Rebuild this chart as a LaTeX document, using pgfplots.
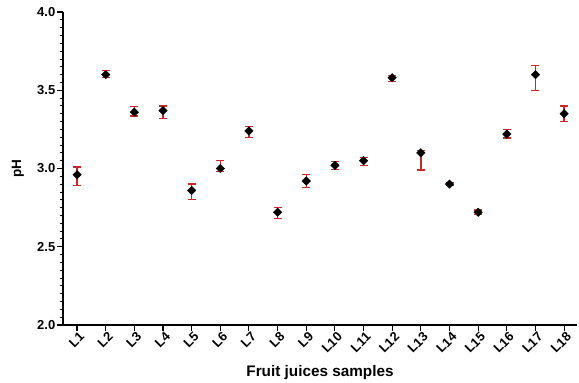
\documentclass[border=0pt]{standalone}
\usepackage{pgfplots}
\pgfplotsset{compat=1.18}
\usepackage{fontspec}
\setmainfont{Liberation Sans}
\definecolor{errred}{RGB}{200,40,40}
\begin{document}
\begin{tikzpicture}
\begin{axis}[
  at={(0,0)}, anchor=south west,
  width=514pt, height=313pt, scale only axis,
  xmin=0.51, xmax=18.45, ymin=2, ymax=4,
  axis lines*=left,
  axis line style={line width=1.3pt, black},
  xtick={1,...,18},
  xticklabels={L1,L2,L3,L4,L5,L6,L7,L8,L9,L10,L11,L12,L13,L14,L15,L16,L17,L18},
  ytick={2,2.5,3,3.5,4},
  minor y tick num=9,
  /pgf/number format/assume math mode=true,
  /pgf/number format/fixed,
  /pgf/number format/fixed zerofill,
  /pgf/number format/precision=1,
  tick label style={font=\bfseries\fontsize{13}{14}\selectfont},
  yticklabel style={inner sep=1.5pt},
  xticklabel style={rotate=45, anchor=east, inner sep=1pt, yshift=-6pt, xshift=2pt},
  tick align=outside,
  major tick length=6pt, minor tick length=3pt,
  tick style={black, line width=1.1pt},
  minor tick style={line width=0.9pt},
  xlabel={\bfseries\fontsize{15.3}{16}\selectfont Fruit juices samples},
  ylabel={\bfseries\fontsize{13.5}{14}\selectfont pH},
  xlabel style={at={(rel axis cs:0.5,0)}, anchor=center, yshift=-47.5pt},
  ylabel style={at={(rel axis cs:0,0.5)}, anchor=center, yshift=45pt},
  clip=false,
]
\addplot[only marks, mark=none,
  error bars/.cd, y dir=both, y explicit,
  error bar style={errred, line width=1.3pt},
  error mark options={errred, rotate=90, mark size=4pt, line width=1.3pt}]
coordinates {
  (1,2.96) += (0,0.05) -= (0,0.07)
  (2,3.60) += (0,0.025) -= (0,0.02)
  (3,3.36) += (0,0.035) -= (0,0.025)
  (4,3.37) += (0,0.03) -= (0,0.05)
  (5,2.86) += (0,0.04) -= (0,0.06)
  (6,3.00) += (0,0.05) -= (0,0.02)
  (7,3.24) += (0,0.03) -= (0,0.04)
  (8,2.72) += (0,0.03) -= (0,0.04)
  (9,2.92) += (0,0.04) -= (0,0.04)
  (10,3.02) += (0,0.025) -= (0,0.025)
  (11,3.05) += (0,0.02) -= (0,0.03)
  (12,3.58) += (0,0.015) -= (0,0.025)
  (13,3.10) += (0,0.015) -= (0,0.11)
  (14,2.90) += (0,0.01) -= (0,0.01)
  (15,2.72) += (0,0.015) -= (0,0.015)
  (16,3.22) += (0,0.03) -= (0,0.025)
  (17,3.60) += (0,0.06) -= (0,0.10)
  (18,3.35) += (0,0.05) -= (0,0.05)
};
\addplot[only marks, mark=square*, mark size=3pt, mark options={black, fill=black, rotate=45}]
coordinates {
  (1,2.96) (2,3.60) (3,3.36) (4,3.37) (5,2.86) (6,3.00) (7,3.24) (8,2.72) (9,2.92)
  (10,3.02) (11,3.05) (12,3.58) (13,3.10) (14,2.90) (15,2.72) (16,3.22) (17,3.60) (18,3.35)
};
\end{axis}
\pgfresetboundingbox
\path (-63pt,-58pt) rectangle (516pt,325pt);
\end{tikzpicture}
\end{document}
